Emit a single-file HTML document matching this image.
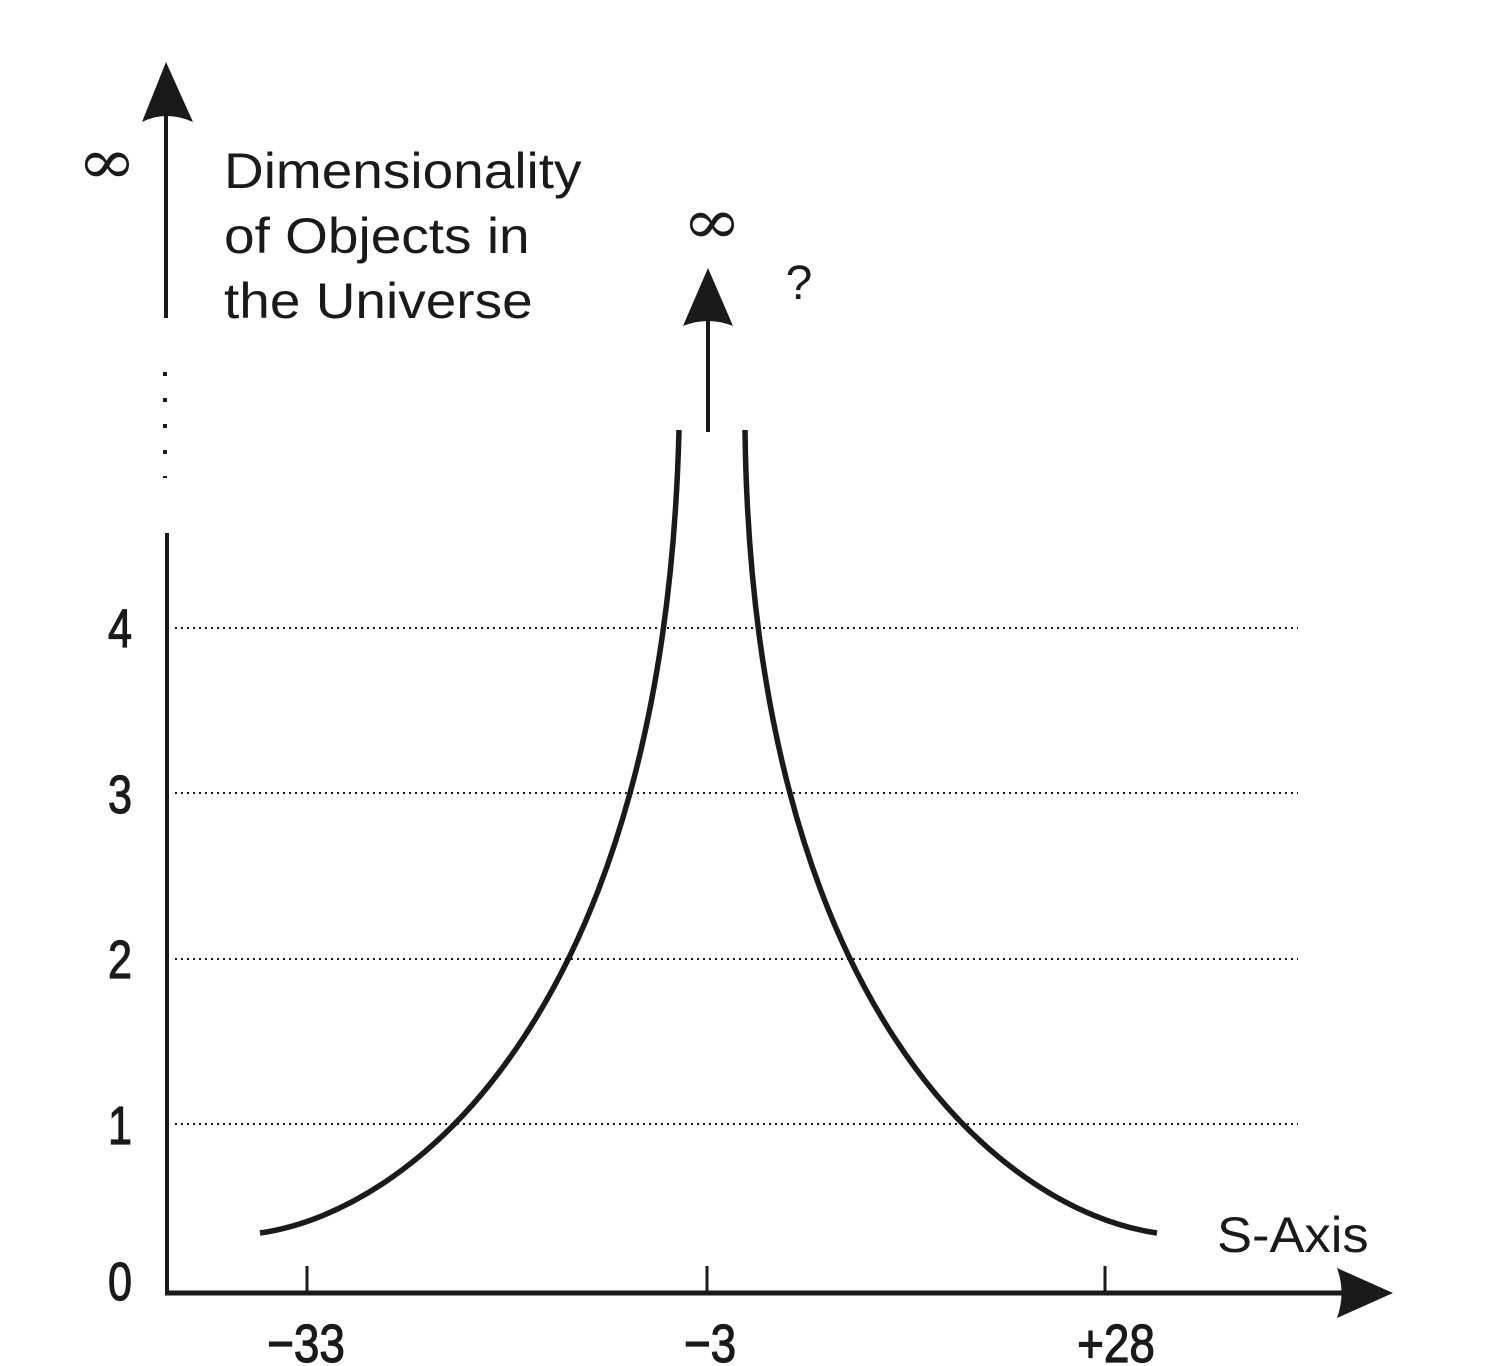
<!DOCTYPE html>
<html><head><meta charset="utf-8"><style>
html,body{margin:0;padding:0;background:#fff;}
svg{display:block;}
text{font-family:"Liberation Sans",sans-serif;fill:#1a1a1a;}
</style></head><body>
<svg width="1497" height="1366" viewBox="0 0 1497 1366" xmlns="http://www.w3.org/2000/svg">
<g stroke="#1a1a1a" fill="none">
<line x1="167" y1="1295" x2="167" y2="533" stroke-width="4"/>
<line x1="166" y1="318" x2="166" y2="110" stroke-width="4"/>
<line x1="165" y1="372" x2="165" y2="478" stroke-width="4" stroke-dasharray="4,22"/>
<line x1="165" y1="1293" x2="1350" y2="1293" stroke-width="5"/>
<line x1="307" y1="1266" x2="307" y2="1291" stroke-width="3"/>
<line x1="707" y1="1266" x2="707" y2="1291" stroke-width="3"/>
<line x1="1105" y1="1266" x2="1105" y2="1291" stroke-width="3"/>
<g stroke-width="2" stroke-dasharray="2,4">
<line x1="175" y1="628" x2="1298" y2="628"/>
<line x1="175" y1="793" x2="1298" y2="793"/>
<line x1="175" y1="959" x2="1298" y2="959"/>
<line x1="175" y1="1124" x2="1298" y2="1124"/>
</g>
<line x1="708" y1="432" x2="708" y2="310" stroke-width="4"/>
<path d="M260,1233 C420,1210 665,1000 679,430" stroke-width="5.5"/>
<path d="M1157,1233 C997,1210 752,1000 745,430" stroke-width="5.5"/>
</g>
<g fill="#1a1a1a">
<path d="M166,62 L193,122 Q166,110 142,122 Z"/>
<path d="M1393,1293 L1337,1268 Q1346,1293 1337,1318 Z"/>
<path d="M708,268 L733,326 Q708,316 683,326 Z"/>
</g>
<text transform="translate(107,183) scale(1.15,1)" font-size="62" text-anchor="middle" style="font-family:'DejaVu Serif',serif">∞</text>
<text transform="translate(712,243) scale(1.15,1)" font-size="62" text-anchor="middle" style="font-family:'DejaVu Serif',serif">∞</text>
<text x="799" y="299" font-size="48" text-anchor="middle">?</text>
<g transform="translate(224,0) scale(1.1,1)">
<text x="0" y="188" font-size="50">Dimensionality</text>
<text x="0" y="253" font-size="50">of Objects in</text>
<text x="0" y="318" font-size="50">the Universe</text>
</g>
<text transform="translate(1217,1252) scale(1.05,1)" font-size="50">S-Axis</text>
<g font-size="54" text-anchor="middle" stroke="#1a1a1a" stroke-width="1.2">
<text transform="translate(120,647) scale(0.8,1)">4</text>
<text transform="translate(120,813) scale(0.8,1)">3</text>
<text transform="translate(120,978) scale(0.8,1)">2</text>
<text transform="translate(120,1144) scale(0.8,1)">1</text>
<text transform="translate(120,1300) scale(0.8,1)">0</text>
<text transform="translate(306,1362) scale(0.85,1)">−33</text>
<text transform="translate(710,1362) scale(0.85,1)">−3</text>
<text transform="translate(1116,1362) scale(0.85,1)">+28</text>
</g>
</svg>
</body></html>
